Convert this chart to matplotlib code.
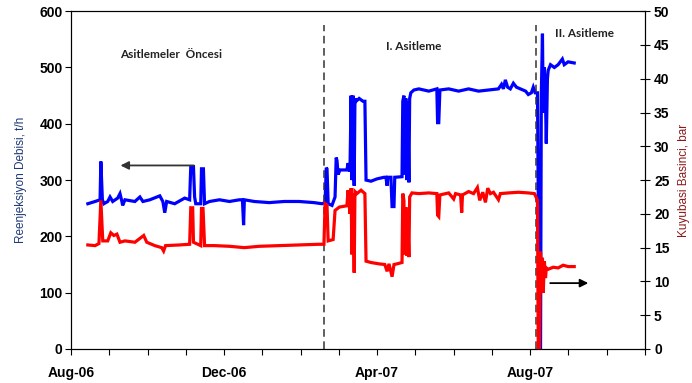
import numpy as np
import matplotlib.pyplot as plt

# months since Aug-06 (x axis), flow t/h (left) and wellhead pressure bar (right)
flow_t = [0.44, 0.63, 0.76, 0.78, 0.82, 0.86, 0.96, 1.02, 1.09, 1.22, 1.28, 1.33, 1.35, 1.41,
          1.67, 1.80, 1.88, 2.06, 2.32, 2.40, 2.45, 2.50, 2.71, 2.97, 3.10, 3.13, 3.20, 3.23,
          3.26, 3.39, 3.41, 3.46, 3.49, 3.62, 3.88, 4.14, 4.40, 4.48, 4.51, 4.53, 4.79, 5.18,
          5.57, 5.96, 6.35, 6.56, 6.64, 6.67, 6.69, 6.72, 6.82, 6.90, 6.93, 6.95, 6.98, 7.03,
          7.21, 7.24, 7.29, 7.32, 7.34, 7.37, 7.40, 7.42, 7.45, 7.53, 7.63, 7.68, 7.71, 7.84,
          7.99, 8.18, 8.23, 8.26, 8.28, 8.36, 8.39, 8.44, 8.46, 8.65, 8.67, 8.70, 8.72, 8.75,
          8.78, 8.80, 8.83, 8.85, 8.88, 8.96, 9.09, 9.35, 9.56, 9.58, 9.61, 9.64, 9.87, 10.13,
          10.39, 10.65, 10.91, 11.17, 11.25, 11.30, 11.35, 11.41, 11.48, 11.56, 11.64, 11.74,
          11.88, 11.95, 12.03, 12.08, 12.13, 12.19, 12.24, 12.27, 12.29, 12.32, 12.34, 12.37,
          12.40, 12.42, 12.45, 12.47, 12.53, 12.63, 12.73, 12.84, 12.89, 12.99, 13.15]
flow = [258, 262, 265, 333, 265, 258, 262, 270, 262, 268, 276, 262, 255, 265,
        262, 270, 262, 265, 272, 262, 242, 262, 258, 268, 265, 324, 324, 270,
        258, 258, 320, 320, 258, 262, 265, 262, 265, 265, 220, 265, 262, 260,
        262, 262, 260, 258, 260, 322, 320, 258, 255, 270, 340, 335, 310, 318,
        318, 330, 315, 450, 300, 450, 290, 445, 440, 445, 440, 440, 300, 298,
        302, 305, 305, 290, 305, 305, 253, 253, 305, 306, 440, 450, 310, 445,
        300, 440, 296, 445, 455, 460, 462, 458, 462, 402, 402, 460, 462, 458,
        462, 458, 460, 462, 470, 462, 478, 465, 462, 472, 465, 462,
        458, 452, 455, 465, 455, 455, 0, 0, 450, 560, 420, 500,
        440, 365, 480, 495, 505, 500, 505, 515, 505, 510, 508]

pres_t = [0.44, 0.63, 0.73, 0.78, 0.83, 0.96, 1.04, 1.12, 1.20, 1.28, 1.41, 1.67, 1.90, 1.98,
          2.19, 2.37, 2.42, 2.47, 2.84, 3.10, 3.13, 3.18, 3.20, 3.39, 3.41, 3.45, 3.49, 3.75,
          4.14, 4.53, 4.92, 5.44, 5.96, 6.48, 6.61, 6.64, 6.69, 6.72, 6.85, 6.90, 7.01, 7.21,
          7.24, 7.29, 7.32, 7.34, 7.37, 7.40, 7.42, 7.47, 7.58, 7.68, 7.71, 7.84, 8.05, 8.20,
          8.26, 8.31, 8.39, 8.44, 8.52, 8.65, 8.67, 8.70, 8.72, 8.75, 8.78, 8.80, 8.83, 8.85,
          8.91, 9.09, 9.35, 9.56, 9.58, 9.61, 9.64, 9.87, 10.00, 10.05, 10.18, 10.21, 10.23,
          10.39, 10.52, 10.62, 10.68, 10.76, 10.83, 10.89, 10.96, 11.04, 11.17, 11.22, 11.43,
          11.69, 11.95, 12.11, 12.16, 12.19, 12.21, 12.24, 12.27, 12.29, 12.32, 12.34, 12.37,
          12.40, 12.42, 12.47, 12.60, 12.73, 12.86, 12.99, 13.15]
pres = [15.4, 15.3, 15.6, 22.0, 16.0, 16.0, 17.2, 16.8, 17.0, 15.8, 16.0, 15.8, 16.8, 15.8,
        15.3, 15.0, 14.5, 15.3, 15.4, 15.5, 20.9, 20.9, 15.8, 15.3, 20.8, 20.8, 15.3, 15.3,
        15.2, 15.0, 15.2, 15.3, 15.4, 15.5, 15.5, 21.5, 21.3, 16.0, 16.2, 20.5, 21.0, 21.2,
        23.5, 20.0, 23.8, 14.0, 23.0, 11.3, 23.3, 23.0, 23.5, 23.0, 13.0, 12.8, 12.6, 12.5,
        11.5, 12.6, 10.7, 12.5, 12.6, 12.8, 23.0, 22.0, 14.0, 21.0, 13.8, 20.0, 13.6, 22.5,
        23.1, 23.0, 23.1, 23.0, 19.8, 19.6, 22.8, 23.1, 22.2, 23.0, 22.8, 20.2, 22.8,
        23.3, 23.0, 23.9, 22.0, 23.2, 21.7, 23.8, 23.0, 23.2, 22.1, 23.0, 23.1,
        23.2, 23.1, 23.0, 22.4, 22.0, 0, 0, 14.4, 9.5, 13.5, 8.3, 13.0,
        10.5, 12.0, 11.8, 12.1, 12.0, 12.4, 12.2, 12.2]

month_labels = ['Aug-06', 'Dec-06', 'Apr-07', 'Aug-07']
phase_lines = [6.60, 12.16]

tick_family = ['Liberation Sans Narrow', 'Liberation Sans', 'DejaVu Sans']
note_font = {'family': ['Lato', 'DejaVu Sans'], 'weight': 'bold', 'size': 8.5, 'color': '#222222'}

fig = plt.figure(figsize=(6.92, 3.83), dpi=100)
ax = fig.add_axes([0.1026, 0.0888, 0.8295, 0.882])
ax2 = ax.twinx()

ax.plot(flow_t, flow, color='#0000FF', lw=2.3, solid_joinstyle='miter')
ax2.plot(pres_t, pres, color='#FF0000', lw=2.3, solid_joinstyle='miter')

ax.set_xlim(0, 15)
ax.set_ylim(0, 600)
ax2.set_ylim(0, 50)
ax.set_yticks(np.arange(0, 601, 100))
ax2.set_yticks(np.arange(0, 51, 5))
ax.set_xticks(np.arange(0, 16, 1), minor=True)
ax.set_xticks([0, 4, 8, 12])
ax.set_xticklabels(month_labels)

ax.tick_params(axis='x', which='both', direction='out', length=4, width=0.8, pad=8)
ax.tick_params(axis='y', direction='out', length=4, width=0.8, pad=2)
ax2.tick_params(axis='y', direction='inout', length=7, width=0.8, pad=3)
for lab in ax.get_xticklabels() + ax.get_yticklabels() + ax2.get_yticklabels():
    lab.set_fontfamily(tick_family)
    lab.set_fontweight('bold')
    lab.set_fontsize(10)
for sp in list(ax.spines.values()) + list(ax2.spines.values()):
    sp.set_linewidth(0.8)

ax.set_ylabel('Reenjeksiyon Debisi, t/h', color='#1F3A78', fontsize=8.5,
              family=['Liberation Sans', 'DejaVu Sans'], labelpad=9)
ax2.set_ylabel('Kuyubasi Basinci, bar', color='#8B1A1A', fontsize=8.5,
               family=['Liberation Sans', 'DejaVu Sans'], labelpad=6)

for xv in phase_lines:
    ax.plot([xv, xv], [0, 575], color='#333333', lw=1.1, ls=(0, (5, 3)))

ax.text(1.28, 523, 'Asitlemeler  Öncesi', ha='left', va='center', **note_font)
ax.text(8.96, 538, 'I. Asitleme', ha='center', va='center', **note_font)
ax.text(12.66, 561, 'II. Asitleme', ha='left', va='center', **note_font)

ax.annotate('', xy=(1.22, 326), xytext=(3.28, 326),
            arrowprops=dict(arrowstyle='-|>', color='#333333', lw=1.3, mutation_scale=12))
ax.annotate('', xy=(13.59, 117), xytext=(12.45, 117),
            arrowprops=dict(arrowstyle='-|>', color='black', lw=1.3, mutation_scale=12))

fig.savefig('out.png', dpi=100)
